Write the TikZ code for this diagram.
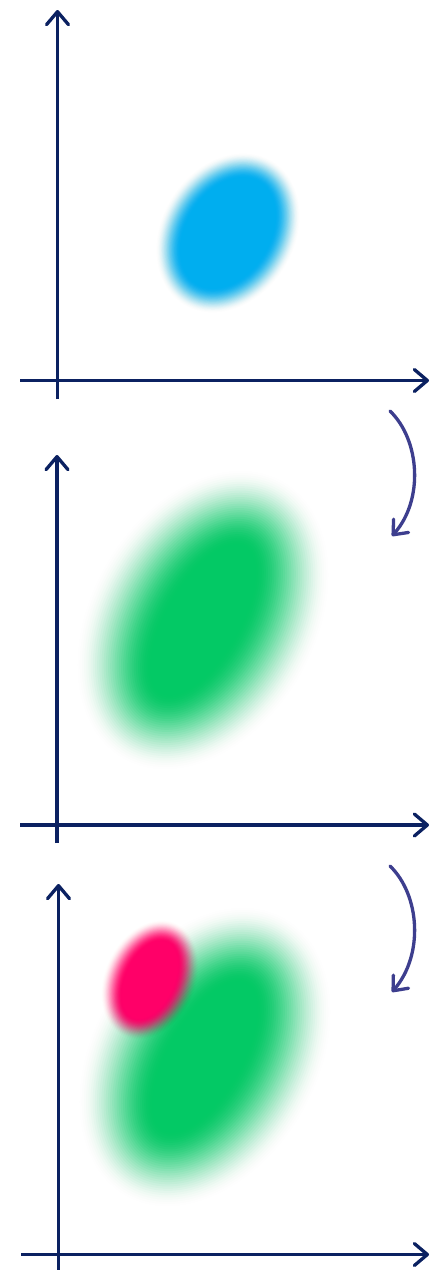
\documentclass[tikz,border=0pt]{standalone}
\usetikzlibrary{arrows.meta}
\definecolor{axisblue}{HTML}{0B2161}
\definecolor{arrowpurple}{HTML}{3D3E8E}
\definecolor{blobblue}{HTML}{00AEEF}
\definecolor{blobgreen}{HTML}{03C965}
\definecolor{blobpink}{HTML}{FF0068}
% #1 x, #2 y, #3 a, #4 b, #5 angle, #6 blur, #7 colour
\newcommand\myblob[7]{%
  \foreach \k in {1,...,36}{%
    \pgfmathsetmacro\tt{\k/36}%
    \pgfmathsetmacro\tq{(\k-1)/36}%
    \pgfmathsetmacro\cc{\tt*\tt*(3-2*\tt)}%
    \pgfmathsetmacro\cq{\tq*\tq*(3-2*\tq)}%
    \pgfmathsetmacro\op{(\cc-\cq)/(1-\cq)}%
    \pgfmathsetmacro\dd{#6*(1-2*\tt)}%
    \pgfmathsetmacro\ra{#3+\dd}%
    \pgfmathsetmacro\rb{#4+\dd}%
    \fill[#7, opacity=\op, rotate around={#5:(#1,#2)}] (#1,#2) ellipse [x radius=\ra pt, y radius=\rb pt];
  }%
}
\tikzset{
  axis/.style={draw=axisblue, line width=3.3pt, -{Straight Barb[length=13pt,width=22pt,round]}},
  flowarrow/.style={draw=arrowpurple, line width=3.3pt, line cap=round, -{Straight Barb[length=12pt,width=20pt,round]}}
}
\begin{document}
\begin{tikzpicture}[x=1pt,y=-1pt]
\useasboundingbox (0,0) rectangle (431,1270);
\fill[white] (0,0) rectangle (431,1270);

% blobs
\myblob{228}{233}{72}{54}{58}{13}{blobblue}
\myblob{203}{620}{122}{74}{60}{40}{blobgreen}
\myblob{205}{1057}{122}{74}{60}{40}{blobgreen}
\myblob{150}{980}{52}{35}{65}{11}{blobpink}

% panel 1 axes
\coordinate (y1b) at (57.5,399);
\coordinate (y1t) at (57.5,10);
\coordinate (x1l) at (20,380.5);
\coordinate (x1r) at (429,380.5);
\draw[axis] (y1b) -- (y1t);
\draw[axis] (x1l) -- (x1r);

% panel 2 axes
\coordinate (y2b) at (57,843);
\coordinate (y2t) at (57,455);
\coordinate (x2l) at (20,825);
\coordinate (x2r) at (429,825);
\draw[axis] (y2b) -- (y2t);
\draw[axis] (x2l) -- (x2r);

% panel 3 axes
\coordinate (y3b) at (58.5,1270);
\coordinate (y3t) at (58.5,884);
\coordinate (x3l) at (21,1254.5);
\coordinate (x3r) at (429,1254.5);
\draw[axis] (y3b) -- (y3t);
\draw[axis] (x3l) -- (x3r);

% flow arrows
\coordinate (a1s) at (390,411);
\coordinate (a1e) at (392,536);
\draw[flowarrow] (a1s) .. controls (420,440) and (424,500) .. (a1e);
\coordinate (a2s) at (390,866);
\coordinate (a2e) at (392,992);
\draw[flowarrow] (a2s) .. controls (420,895) and (424,955) .. (a2e);
\end{tikzpicture}
\end{document}
